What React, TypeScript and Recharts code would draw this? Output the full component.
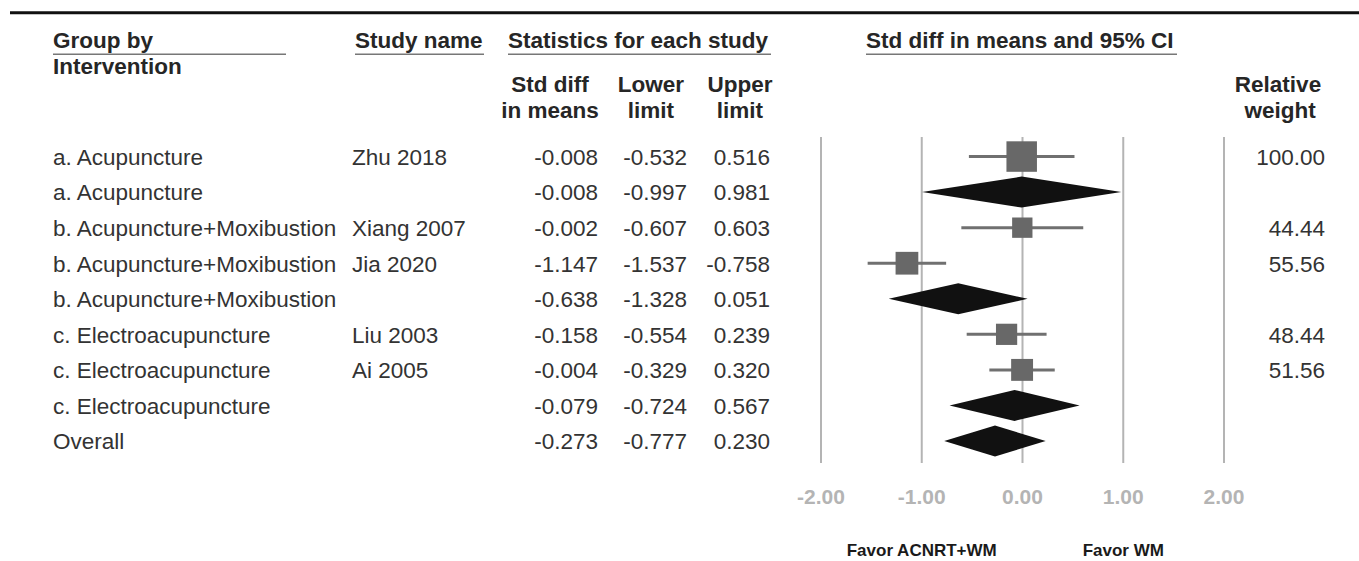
import React from "react";
import { ComposedChart, Bar, XAxis, YAxis, CartesianGrid } from "recharts";

// ---------- data ----------

const groups = [
  "a. Acupuncture",
  "a. Acupuncture",
  "b. Acupuncture+Moxibustion",
  "b. Acupuncture+Moxibustion",
  "b. Acupuncture+Moxibustion",
  "c. Electroacupuncture",
  "c. Electroacupuncture",
  "c. Electroacupuncture",
  "Overall",
];
const studies = ["Zhu 2018", "", "Xiang 2007", "Jia 2020", "", "Liu 2003", "Ai 2005", "", ""];
const effects = [-0.008, -0.008, -0.002, -1.147, -0.638, -0.158, -0.004, -0.079, -0.273];
const lowers = [-0.532, -0.997, -0.607, -1.537, -1.328, -0.554, -0.329, -0.724, -0.777];
const uppers = [0.516, 0.981, 0.603, -0.758, 0.051, 0.239, 0.32, 0.567, 0.23];
const weights: (number | null)[] = [100.0, null, 44.44, 55.56, null, 48.44, 51.56, null, null];
const isSummary = [false, true, false, false, true, false, false, true, true];

const xTicks = [-2, -1, 0, 1, 2];
const favorLabels: Record<string, string> = { "-1": "Favor ACNRT+WM", "1": "Favor WM" };

const rows = groups.map((g, i) => ({
  id: `r${i}`,
  group: g,
  study: studies[i],
  effect: effects[i],
  lower: lowers[i],
  upper: uppers[i],
  range: [lowers[i], uppers[i]],
  weight: weights[i],
  summary: isSummary[i],
}));

const FONT = '"Liberation Sans", Arial, sans-serif';
const fmt3 = (v: number) => v.toFixed(3);

// ---------- marks ----------

function ForestMark(props: any) {
  const { x, y, width, height, payload } = props;
  if (!payload) return null;
  const cy = y + height / 2;
  const [lo, hi] = payload.range;
  const ex = x + (width * (payload.effect - lo)) / (hi - lo);
  if (payload.summary) {
    const h = 15.5;
    return (
      <polygon
        points={`${x},${cy} ${ex},${cy - h} ${x + width},${cy} ${ex},${cy + h}`}
        fill="#111"
      />
    );
  }
  const side = 3.05 * Math.sqrt(payload.weight);
  return (
    <g>
      <line x1={x} x2={x + width} y1={cy} y2={cy} stroke="#707070" strokeWidth={3} />
      <rect x={ex - side / 2} y={cy - side / 2} width={side} height={side} fill="#686868" />
    </g>
  );
}

// table text for each row, hung on the y axis ticks
function RowTick(props: any) {
  const { y, payload } = props;
  const r = rows.find((d) => d.id === payload.value);
  if (!r) return null;
  const common = { y, dy: "0.36em", fontFamily: FONT, fontSize: 22.5, fill: "#333" };
  return (
    <g>
      <text x={53} {...common}>{r.group}</text>
      <text x={352} {...common}>{r.study}</text>
      <text x={598} textAnchor="end" {...common}>{fmt3(r.effect)}</text>
      <text x={687} textAnchor="end" {...common}>{fmt3(r.lower)}</text>
      <text x={770} textAnchor="end" {...common}>{fmt3(r.upper)}</text>
      {r.weight != null && (
        <text x={1325} textAnchor="end" {...common}>{r.weight.toFixed(2)}</text>
      )}
    </g>
  );
}

function AxisTick(props: any) {
  const { x, y, payload } = props;
  const fav = favorLabels[String(payload.value)];
  return (
    <g>
      <text x={x} y={y + 41} textAnchor="middle" fontFamily={FONT} fontSize={21} fontWeight="bold" fill="#b4b4b4">
        {Number(payload.value).toFixed(2)}
      </text>
      {fav && (
        <text x={x} y={y + 93} textAnchor="middle" fontFamily={FONT} fontSize={17} fontWeight="bold" fill="#1a1a1a">
          {fav}
        </text>
      )}
    </g>
  );
}

// ---------- header ----------

function Header() {
  const h = { fontFamily: FONT, fontSize: 22.5, fontWeight: "bold" as const, fill: "#262626" };
  const ul = { stroke: "#777", strokeWidth: 1.5 };
  return (
    <svg width={1359} height={561} style={{ position: "absolute", left: 0, top: 0, pointerEvents: "none" }}>
      <line x1={10} x2={1359} y1={12.7} y2={12.7} stroke="#111" strokeWidth={3} />
      <text x={53} y={48} {...h}>Group by</text>
      <line x1={53} x2={286} y1={54.3} y2={54.3} {...ul} />
      <text x={53} y={74} {...h}>Intervention</text>
      <text x={355} y={48} {...h}>Study name</text>
      <line x1={355} x2={484} y1={54.3} y2={54.3} {...ul} />
      <text x={508} y={48} {...h}>Statistics for each study</text>
      <line x1={508} x2={771} y1={54.3} y2={54.3} {...ul} />
      <text x={866} y={48} {...h}>Std diff in means and 95% CI</text>
      <line x1={866} x2={1177} y1={54.3} y2={54.3} {...ul} />
      <text x={550} y={92} textAnchor="middle" {...h}>Std diff</text>
      <text x={550} y={118} textAnchor="middle" {...h}>in means</text>
      <text x={651} y={92} textAnchor="middle" {...h}>Lower</text>
      <text x={651} y={118} textAnchor="middle" {...h}>limit</text>
      <text x={740} y={92} textAnchor="middle" {...h}>Upper</text>
      <text x={740} y={118} textAnchor="middle" {...h}>limit</text>
      <text x={1278} y={92} textAnchor="middle" {...h}>Relative</text>
      <text x={1280} y={118} textAnchor="middle" {...h}>weight</text>
    </svg>
  );
}

export default function App() {
  return (
    <div style={{ position: "absolute", left: 0, top: 0, width: 1359, height: 561, background: "#fff" }}>
      <ComposedChart
        width={1359}
        height={561}
        data={rows}
        layout="vertical"
        margin={{ top: 137, right: 135, bottom: 0, left: 0 }}
      >
        <CartesianGrid horizontal={false} stroke="#b4b4b4" strokeWidth={2} />
        <XAxis
          type="number"
          domain={[-2, 2]}
          ticks={xTicks}
          allowDataOverflow
          axisLine={false}
          tickLine={false}
          tickSize={0}
          tickMargin={0}
          height={98}
          interval={0}
          tick={<AxisTick />}
        />
        <YAxis
          type="category"
          dataKey="id"
          width={821}
          axisLine={false}
          tickLine={false}
          interval={0}
          padding={{ top: 2, bottom: 4 }}
          tick={<RowTick />}
        />
        <Bar dataKey="range" isAnimationActive={false} shape={<ForestMark />} />
      </ComposedChart>
      <Header />
    </div>
  );
}
